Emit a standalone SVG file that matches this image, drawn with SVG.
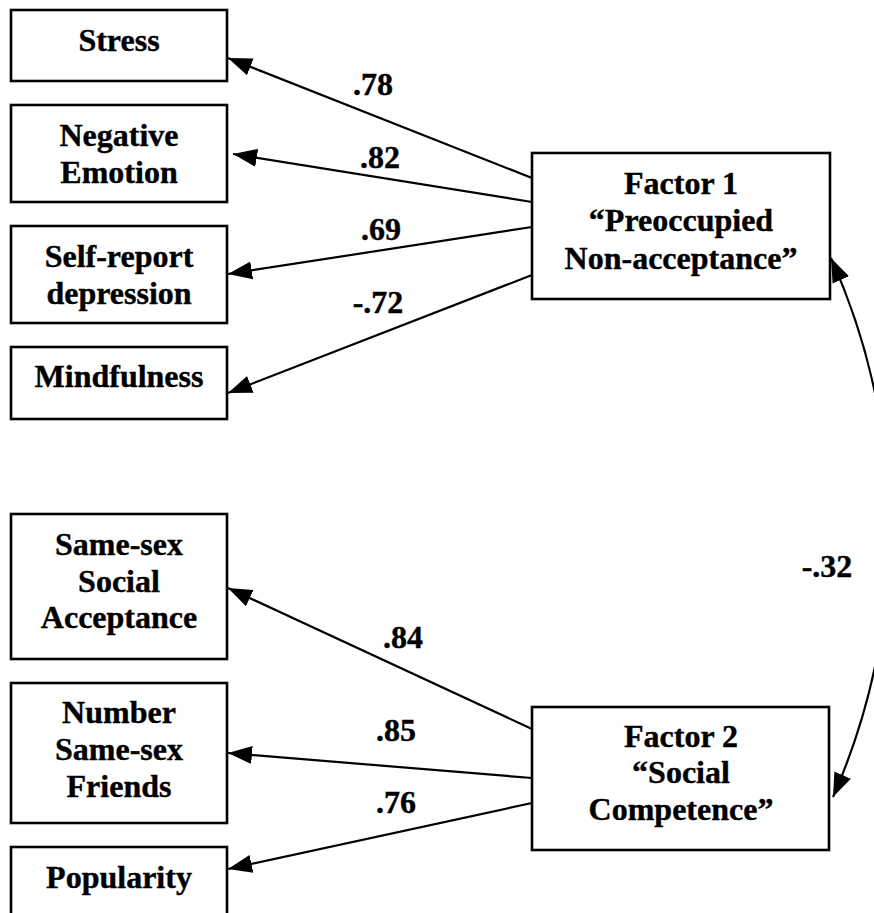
<svg xmlns="http://www.w3.org/2000/svg" width="874" height="913" viewBox="0 0 874 913">
  <style>
    .box { fill: #ffffff; stroke: #000000; stroke-width: 2.6; }
    .lbl { font-family: "Liberation Serif", "Times New Roman", serif; font-weight: bold; font-size: 32px; fill: #000000; stroke: #000000; stroke-width: 0.4; text-anchor: middle; }
    .edge { fill: none; stroke: #000000; stroke-width: 2.2; }
    .arr { marker-end: url(#head); }
    .both { marker-start: url(#head); marker-end: url(#head); }
  </style>
  <defs>
    <marker id="head" markerUnits="userSpaceOnUse" markerWidth="26" markerHeight="20" viewBox="0 0 26 20" refX="24" refY="10" orient="auto-start-reverse">
      <path d="M0 1 L24 10 L0 19 Z" fill="#000000"/>
    </marker>
  </defs>
  <rect x="0" y="0" width="874" height="913" fill="#ffffff"/>

  <!-- loadings and factor correlation -->
  <g id="connectors">
    <line class="edge arr" x1="532" y1="178" x2="228" y2="58"/>
    <line class="edge arr" x1="532" y1="202" x2="233" y2="154"/>
    <line class="edge arr" x1="532" y1="227" x2="228" y2="274"/>
    <line class="edge arr" x1="532" y1="275" x2="228" y2="393"/>
    <line class="edge arr" x1="532" y1="729" x2="228" y2="588"/>
    <line class="edge arr" x1="532" y1="778" x2="228" y2="753"/>
    <line class="edge arr" x1="532" y1="803" x2="228" y2="869"/>
    <path class="edge both" d="M831 258 A665 665 0 0 1 833 797"/>
    <text class="lbl" x="373" y="95">.78</text>
    <text class="lbl" x="380" y="168">.82</text>
    <text class="lbl" x="381" y="240">.69</text>
    <text class="lbl" x="378" y="313">-.72</text>
    <text class="lbl" x="403" y="648">.84</text>
    <text class="lbl" x="396" y="741">.85</text>
    <text class="lbl" x="396" y="813">.76</text>
    <text class="lbl" x="827" y="577">-.32</text>
  </g>

  <g id="stress">
    <rect class="box" x="11" y="10" width="216" height="71"/>
    <text class="lbl" x="119" y="51">Stress</text>
  </g>
  <g id="negative-emotion">
    <rect class="box" x="11" y="105" width="216" height="97"/>
    <text class="lbl" x="119" y="146">Negative</text>
    <text class="lbl" x="119" y="183">Emotion</text>
  </g>
  <g id="self-report-depression">
    <rect class="box" x="11" y="226" width="216" height="97"/>
    <text class="lbl" x="119" y="267">Self-report</text>
    <text class="lbl" x="119" y="304">depression</text>
  </g>
  <g id="mindfulness">
    <rect class="box" x="11" y="347" width="216" height="72"/>
    <text class="lbl" x="119" y="387">Mindfulness</text>
  </g>
  <g id="factor1">
    <rect class="box" x="532" y="153" width="298" height="146"/>
    <text class="lbl" x="681" y="194">Factor 1</text>
    <text class="lbl" x="681" y="231">“Preoccupied</text>
    <text class="lbl" x="681" y="269">Non-acceptance”</text>
  </g>

  <g id="same-sex-social-acceptance">
    <rect class="box" x="11" y="514" width="216" height="145"/>
    <text class="lbl" x="119" y="555">Same-sex</text>
    <text class="lbl" x="119" y="592">Social</text>
    <text class="lbl" x="119" y="628">Acceptance</text>
  </g>
  <g id="number-same-sex-friends">
    <rect class="box" x="11" y="683" width="216" height="140"/>
    <text class="lbl" x="119" y="723">Number</text>
    <text class="lbl" x="119" y="760">Same-sex</text>
    <text class="lbl" x="119" y="797">Friends</text>
  </g>
  <g id="popularity">
    <rect class="box" x="11" y="847" width="216" height="90"/>
    <text class="lbl" x="119" y="888">Popularity</text>
  </g>
  <g id="factor2">
    <rect class="box" x="532" y="707" width="297" height="143"/>
    <text class="lbl" x="681" y="747">Factor 2</text>
    <text class="lbl" x="681" y="783">“Social</text>
    <text class="lbl" x="681" y="820">Competence”</text>
  </g>
</svg>
